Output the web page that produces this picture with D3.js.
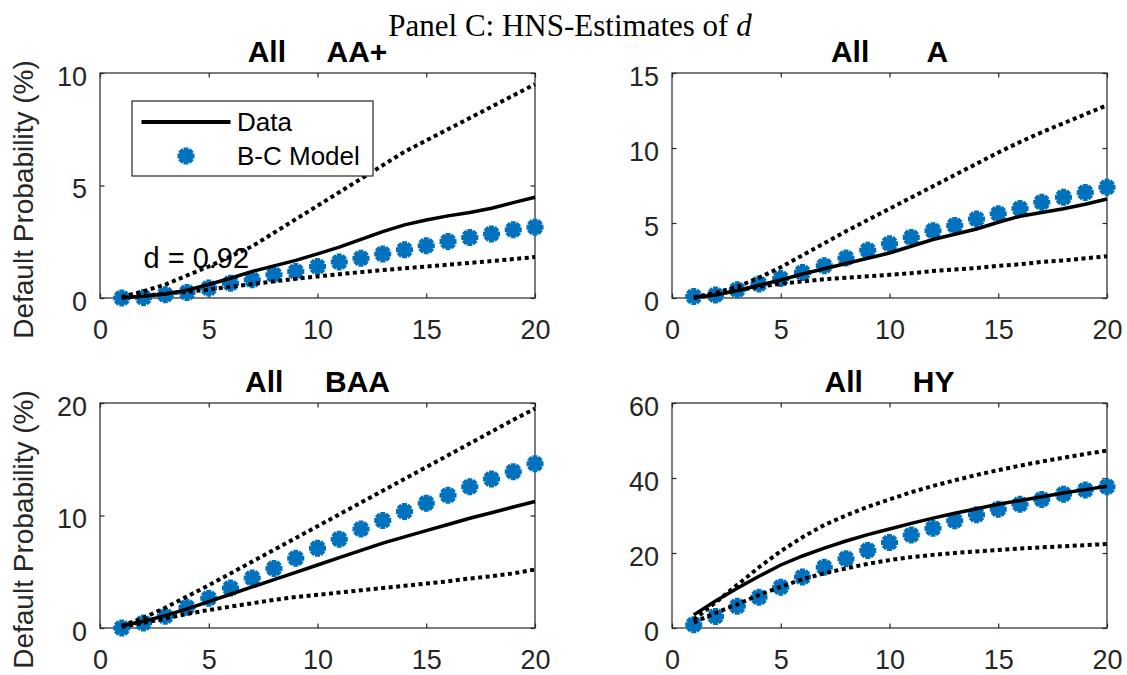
<!DOCTYPE html>
<html>
<head>
<meta charset="utf-8">
<script src="https://cdn.jsdelivr.net/npm/d3@7"></script>
<style>
  body { margin: 0; background: #fff; }
  svg { display: block; font-family: "Liberation Sans", Arial, Helvetica, sans-serif; }
</style>
</head>
<body>
<div id="chart"></div>
<script>
// horizon (years) and tick values
var horizon = [1, 2, 3, 4, 5, 6, 7, 8, 9, 10, 11, 12, 13, 14, 15, 16, 17, 18, 19, 20];
var xTicks = [0, 5, 10, 15, 20];
var panelTitles = ["All     AA+", "All       A", "All     BAA", "All      HY"];
var yMaxes = [10, 15, 20, 60];
var yTickSets = [[0, 5, 10], [0, 5, 10, 15], [0, 10, 20], [0, 20, 40, 60]];

// AA+
var aaData  = [0.02, 0.08, 0.18, 0.35, 0.6, 0.88, 1.18, 1.43, 1.67, 1.96, 2.26, 2.61, 2.95, 3.25, 3.47, 3.65, 3.8, 3.99, 4.24, 4.48];
var aaUpper = [0.05, 0.3, 0.6, 1.0, 1.4, 1.85, 2.3, 2.9, 3.5, 4.1, 4.7, 5.3, 5.9, 6.5, 7.0, 7.5, 8.0, 8.5, 9.0, 9.5];
var aaLower = [0.0, 0.1, 0.2, 0.28, 0.37, 0.5, 0.62, 0.74, 0.85, 0.96, 1.06, 1.15, 1.24, 1.32, 1.4, 1.48, 1.56, 1.64, 1.73, 1.82];
var aaModel = [0.0, 0.02, 0.15, 0.25, 0.44, 0.66, 0.81, 1.03, 1.18, 1.4, 1.6, 1.77, 1.96, 2.14, 2.32, 2.51, 2.69, 2.85, 3.03, 3.15];

// A
var aData  = [0.05, 0.2, 0.5, 0.85, 1.2, 1.6, 1.95, 2.3, 2.65, 3.0, 3.45, 3.9, 4.25, 4.6, 5.05, 5.45, 5.7, 5.95, 6.25, 6.6];
var aUpper = [0.05, 0.35, 0.75, 1.35, 2.05, 2.85, 3.65, 4.45, 5.2, 5.95, 6.7, 7.45, 8.2, 8.95, 9.7, 10.4, 11.05, 11.65, 12.25, 12.85];
var aLower = [0.0, 0.25, 0.5, 0.75, 0.95, 1.1, 1.25, 1.35, 1.45, 1.55, 1.65, 1.8, 1.9, 2.0, 2.15, 2.25, 2.4, 2.5, 2.65, 2.78];
var aModel = [0.1, 0.2, 0.55, 0.93, 1.3, 1.7, 2.15, 2.67, 3.18, 3.62, 4.04, 4.49, 4.84, 5.27, 5.62, 5.96, 6.38, 6.71, 7.04, 7.38];

// BAA
var baaData  = [0.2, 0.6, 1.1, 1.7, 2.35, 3.0, 3.65, 4.3, 4.95, 5.6, 6.25, 6.9, 7.55, 8.1, 8.65, 9.2, 9.75, 10.25, 10.75, 11.25];
var baaUpper = [0.2, 0.9, 1.8, 2.8, 3.8, 4.85, 5.9, 6.95, 8.0, 9.05, 10.1, 11.15, 12.2, 13.25, 14.3, 15.35, 16.4, 17.45, 18.5, 19.5];
var baaLower = [0.1, 0.45, 0.85, 1.25, 1.6, 1.9, 2.2, 2.5, 2.75, 2.95, 3.15, 3.35, 3.55, 3.75, 3.95, 4.15, 4.4, 4.6, 4.85, 5.2];
var baaModel = [0.0, 0.45, 1.05, 1.85, 2.65, 3.55, 4.45, 5.3, 6.2, 7.1, 7.9, 8.8, 9.55, 10.35, 11.1, 11.8, 12.55, 13.25, 13.9, 14.6];

// HY
var hyData  = [3.5, 7.2, 10.6, 13.8, 16.8, 19.2, 21.3, 23.2, 24.9, 26.4, 27.9, 29.3, 30.6, 31.8, 33.0, 34.0, 35.0, 36.0, 36.9, 37.8];
var hyUpper = [2.2, 6.8, 11.5, 16.2, 20.5, 24.2, 27.5, 30.0, 32.3, 34.3, 36.2, 37.9, 39.4, 40.8, 42.1, 43.3, 44.4, 45.4, 46.4, 47.3];
var hyLower = [1.5, 4.0, 6.3, 8.8, 11.0, 13.0, 14.6, 15.9, 17.1, 18.1, 18.9, 19.5, 20.0, 20.4, 20.8, 21.2, 21.5, 21.8, 22.1, 22.4];
var hyModel = [0.9, 3.1, 5.8, 8.2, 10.9, 13.6, 16.2, 18.5, 20.7, 22.8, 24.8, 26.6, 28.6, 30.2, 31.7, 33.0, 34.3, 35.7, 36.8, 37.7];

var dNote = "d = 0.92", dNoteAt = [2, 1.8];

var dataSets = [aaData, aData, baaData, hyData];
var upperSets = [aaUpper, aUpper, baaUpper, hyUpper];
var lowerSets = [aaLower, aLower, baaLower, hyLower];
var modelSets = [aaModel, aModel, baaModel, hyModel];

var width = 1127, height = 675;
var colX = [100, 672], rowY = [73, 403];
var pw = 435, ph = 225;
var axisColor = "#262626", blue = "#0072BD";

var svg = d3.select("#chart").append("svg")
  .attr("width", width).attr("height", height);
svg.append("rect").attr("width", width).attr("height", height).attr("fill", "#fff");

svg.append("text")
  .attr("x", 570).attr("y", 36)
  .attr("text-anchor", "middle")
  .style("font-family", "'Liberation Serif', 'Times New Roman', serif")
  .style("font-size", "31px")
  .attr("fill", "#000")
  .html("Panel C: HNS-Estimates of <tspan font-style='italic'>d</tspan>");

// asterisk marker (+ and x overlaid)
function asterisk(r) {
  var k = r * 0.7071;
  return "M" + (-r) + ",0L" + r + ",0M0," + (-r) + "L0," + r +
    "M" + (-k) + "," + (-k) + "L" + k + "," + k + "M" + (-k) + "," + k + "L" + k + "," + (-k);
}

function drawMarkers(g, pts) {
  g.selectAll("path.mk").data(pts).enter().append("path")
    .attr("class", "mk")
    .attr("transform", function(d) { return "translate(" + d[0] + "," + d[1] + ")"; })
    .attr("d", asterisk(8.5))
    .attr("stroke", blue).attr("stroke-width", 5).attr("fill", "none");
}

panelTitles.forEach(function(title, i) {
  var col = i % 2, row = Math.floor(i / 2);
  var g = svg.append("g").attr("transform", "translate(" + colX[col] + "," + rowY[row] + ")");

  var x = d3.scaleLinear().domain([0, 20]).range([0, pw]);
  var y = d3.scaleLinear().domain([0, yMaxes[i]]).range([ph, 0]);

  // axes
  var xb = g.append("g").attr("transform", "translate(0," + ph + ")")
    .call(d3.axisBottom(x).tickValues(xTicks).tickSizeInner(-4.5).tickSizeOuter(0).tickPadding(22));
  var xt = g.append("g")
    .call(d3.axisTop(x).tickValues(xTicks).tickSizeInner(-4.5).tickSizeOuter(0).tickFormat(""));
  var yl = g.append("g")
    .call(d3.axisLeft(y).tickValues(yTickSets[i]).tickSizeInner(-4.5).tickSizeOuter(0).tickPadding(13));
  var yr = g.append("g").attr("transform", "translate(" + pw + ",0)")
    .call(d3.axisRight(y).tickValues(yTickSets[i]).tickSizeInner(-4.5).tickSizeOuter(0).tickFormat(""));
  [xb, xt, yl, yr].forEach(function(a) {
    a.select(".domain").remove();
    a.selectAll("line").attr("stroke", axisColor).attr("stroke-width", 1.2);
    a.selectAll("text").attr("fill", axisColor)
      .style("font-family", "'Liberation Sans', Arial, sans-serif").style("font-size", "27px");
  });
  yl.selectAll("text").attr("dy", "0.46em");

  g.append("rect").attr("width", pw).attr("height", ph)
    .attr("fill", "none").attr("stroke", axisColor).attr("stroke-width", 1.2);

  var pts = horizon.map(function(h, j) { return [x(h), y(modelSets[i][j])]; });
  drawMarkers(g, pts);

  var line = d3.line()
    .x(function(d, j) { return x(horizon[j]); })
    .y(function(d) { return y(d); });

  g.append("path").datum(dataSets[i]).attr("d", line)
    .attr("fill", "none").attr("stroke", "#000").attr("stroke-width", 3.5);
  [upperSets[i], lowerSets[i]].forEach(function(s) {
    g.append("path").datum(s).attr("d", line)
      .attr("fill", "none").attr("stroke", "#000").attr("stroke-width", 4)
      .attr("stroke-dasharray", "4,3.5");
  });

  // panel title
  g.append("text").attr("x", pw / 2).attr("y", -11)
    .attr("text-anchor", "middle").attr("xml:space", "preserve")
    .style("white-space", "pre").style("font-weight", "bold").style("font-size", "30px")
    .attr("fill", "#000").text(title);

  if (col === 0) {
    g.append("text")
      .attr("transform", "translate(-67," + (ph / 2 + 14) + ") rotate(-90)")
      .attr("text-anchor", "middle").style("font-size", "28px").attr("fill", axisColor)
      .text("Default Probability (%)");
  }

  if (i === 0) {
    g.append("text").attr("x", x(dNoteAt[0])).attr("y", y(dNoteAt[1]))
      .attr("dy", "0.35em").style("font-size", "29px").attr("fill", "#000").text(dNote);

    // legend
    var lg = g.append("g").attr("transform", "translate(32,28)");
    lg.append("rect").attr("width", 241).attr("height", 75)
      .attr("fill", "#fff").attr("stroke", axisColor).attr("stroke-width", 1.2);
    lg.append("line").attr("x1", 9.5).attr("x2", 98.5).attr("y1", 21).attr("y2", 21)
      .attr("stroke", "#000").attr("stroke-width", 4);
    lg.append("text").attr("x", 105).attr("y", 21).attr("dy", "0.35em")
      .style("font-size", "26px").attr("fill", "#000").text("Data");
    drawMarkers(lg, [[54, 55]]);
    lg.append("text").attr("x", 105).attr("y", 55).attr("dy", "0.35em")
      .style("font-size", "26px").attr("fill", "#000").text("B-C Model");
  }
});
</script>
</body>
</html>
